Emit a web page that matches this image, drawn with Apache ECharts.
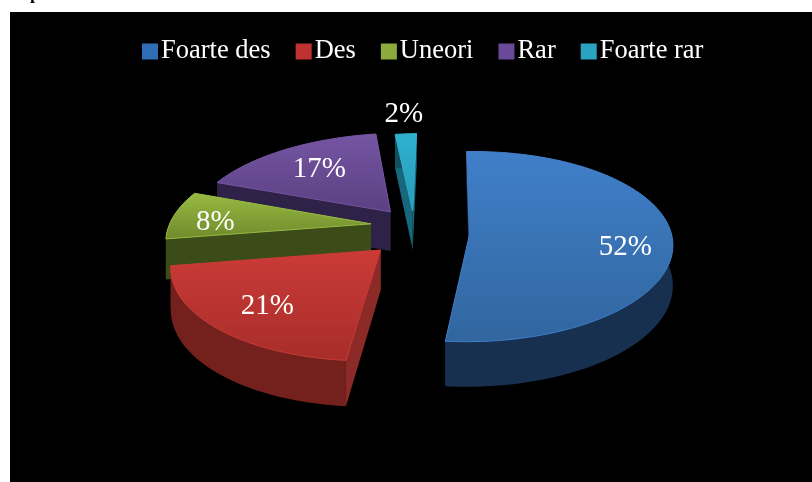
<!DOCTYPE html>
<html>
<head>
<meta charset="utf-8">
<style>
html, body { margin: 0; padding: 0; background: #fff; }
#chart { width: 812px; height: 482px; }
</style>
<script src="https://cdn.jsdelivr.net/npm/echarts@6/dist/echarts.min.js"></script>
</head>
<body>
<div id="chart"></div>
<script>
var categories = ['Foarte des', 'Des', 'Uneori', 'Rar', 'Foarte rar'];
var shares = [52, 21, 8, 17, 2];

// culori: suprafata sus (deschis, inchis), perete radial, perete exterior
var topLight = ['#407fc9', '#cb3b37', '#98bb42', '#7555a2', '#2fb0d0'];
var topDark = ['#31669f', '#a82d2b', '#6f8a2c', '#5b4082', '#2a9bb8'];
var wallColors = ['#1c3b60', '#8c2a27', '#3b4c18', '#2e2249', '#17687c'];
var rimColors = ['#17304f', '#74211e', '#3b4c18', '#2e2249', '#124f5f'];
var iconColors = ['#2f6db5', '#c0322f', '#8bab3c', '#6a4a98', '#2aa3c2'];

// reglaje pe felie: deplasare si pozitia etichetei
var sliceDx = [0, -5, -2, -2, -6];
var sliceLift = [2, 1, -6, -3, 1];
var labelRadius = [0.77, 0.71, 0.79, 0.66, 1.27];
var labelDx = [0, 0, 0, 0, -1];
var labelDy = [10, 2, 5, 1, -3];

var startAngle = -1.8;
var radius = 202, tilt = 0.47, persp = 0.125, explode = 0.24, depth = 40;
var centerX = 421, centerY = 232, shiftX = -70;
var total = 0;
for (var i = 0; i < shares.length; i++) total += shares[i];

// proiectie cu perspectiva: X, Z in raze fata de centrul placintei
function project(X, Z, h) {
    var s = 1 + persp * Z;
    return [
        centerX + shiftX * (s - 1) + X * radius * s,
        centerY + Z * radius * tilt * s + (h || 0) * s
    ];
}
function polar(a, r, off) {
    var rad = a * Math.PI / 180;
    return [off[0] + r * Math.sin(rad), off[1] - r * Math.cos(rad)];
}
function polygon(points, fill, extra) {
    var el = {type: 'polygon', shape: {points: points}, style: {fill: fill}};
    if (extra) el.style.stroke = extra, el.style.lineWidth = 1;
    return el;
}
function renderSlice(idx) {
    return function (params, api) {
        var before = 0;
        for (var k = 0; k < idx; k++) before += shares[k];
        var value = api.value(0);
        var a0 = startAngle + before / total * 360;
        var a1 = a0 + value / total * 360;
        var mid = (a0 + a1) / 2;
        var off = polar(mid, explode, [0, 0]);
        var topArc = [], lowArc = [];
        for (var a = a0; a < a1; a += 2) {
            var p = polar(a, 1, off);
            topArc.push(project(p[0], p[1]));
            lowArc.push(project(p[0], p[1], depth));
        }
        var pe = polar(a1, 1, off);
        topArc.push(project(pe[0], pe[1]));
        lowArc.push(project(pe[0], pe[1], depth));
        var apex = project(off[0], off[1]);
        var apexLow = project(off[0], off[1], depth);
        var n = topArc.length - 1;

        var wallA = polygon([apex, topArc[0], lowArc[0], apexLow], wallColors[idx]);
        var wallB = polygon([apex, topArc[n], lowArc[n], apexLow], wallColors[idx]);
        var rim = polygon(topArc.concat(lowArc.slice().reverse()), rimColors[idx]);
        var top = polygon([apex].concat(topArc), new echarts.graphic.LinearGradient(0, 0, 0, 1, [
            {offset: 0, color: topLight[idx]},
            {offset: 1, color: topDark[idx]}
        ]), topLight[idx]);

        var lp = polar(mid, labelRadius[idx], off);
        var lxy = project(lp[0], lp[1]);
        var label = {
            type: 'text',
            z2: 10,
            x: lxy[0] + labelDx[idx],
            y: lxy[1] + labelDy[idx],
            style: {
                text: value + '%',
                fill: '#fff',
                font: '29px "Liberation Serif"',
                align: 'center',
                verticalAlign: 'middle'
            }
        };
        return {
            type: 'group',
            x: sliceDx[idx],
            y: sliceLift[idx],
            children: [wallA, wallB, rim, top, label]
        };
    };
}

var series = [];
for (var j = 0; j < categories.length; j++) {
    series.push({
        name: categories[j],
        type: 'custom',
        coordinateSystem: 'none',
        z: 10 - j,
        silent: true,
        itemStyle: {color: iconColors[j]},
        renderItem: renderSlice(j),
        data: [shares[j]]
    });
}

var chart = echarts.init(document.getElementById('chart'), null, {renderer: 'canvas'});
chart.setOption({
    animation: false,
    backgroundColor: '#fff',
    graphic: [
        {type: 'rect', z: -10, shape: {x: 10, y: 12, width: 802, height: 470}, style: {fill: '#000'}},
        {type: 'text', z: -5, x: 30, y: -15, style: {text: 'p', fill: '#000', font: 'bold 18px "Liberation Serif"'}}
    ],
    legend: {
        left: 137,
        top: 33,
        itemWidth: 16,
        itemHeight: 16,
        itemGap: 25,
        icon: 'rect',
        textStyle: {color: '#fff', fontFamily: 'Liberation Serif', fontSize: 26.5, padding: [0, 0, 0, -2]},
        data: categories
    },
    series: series
});
</script>
</body>
</html>
